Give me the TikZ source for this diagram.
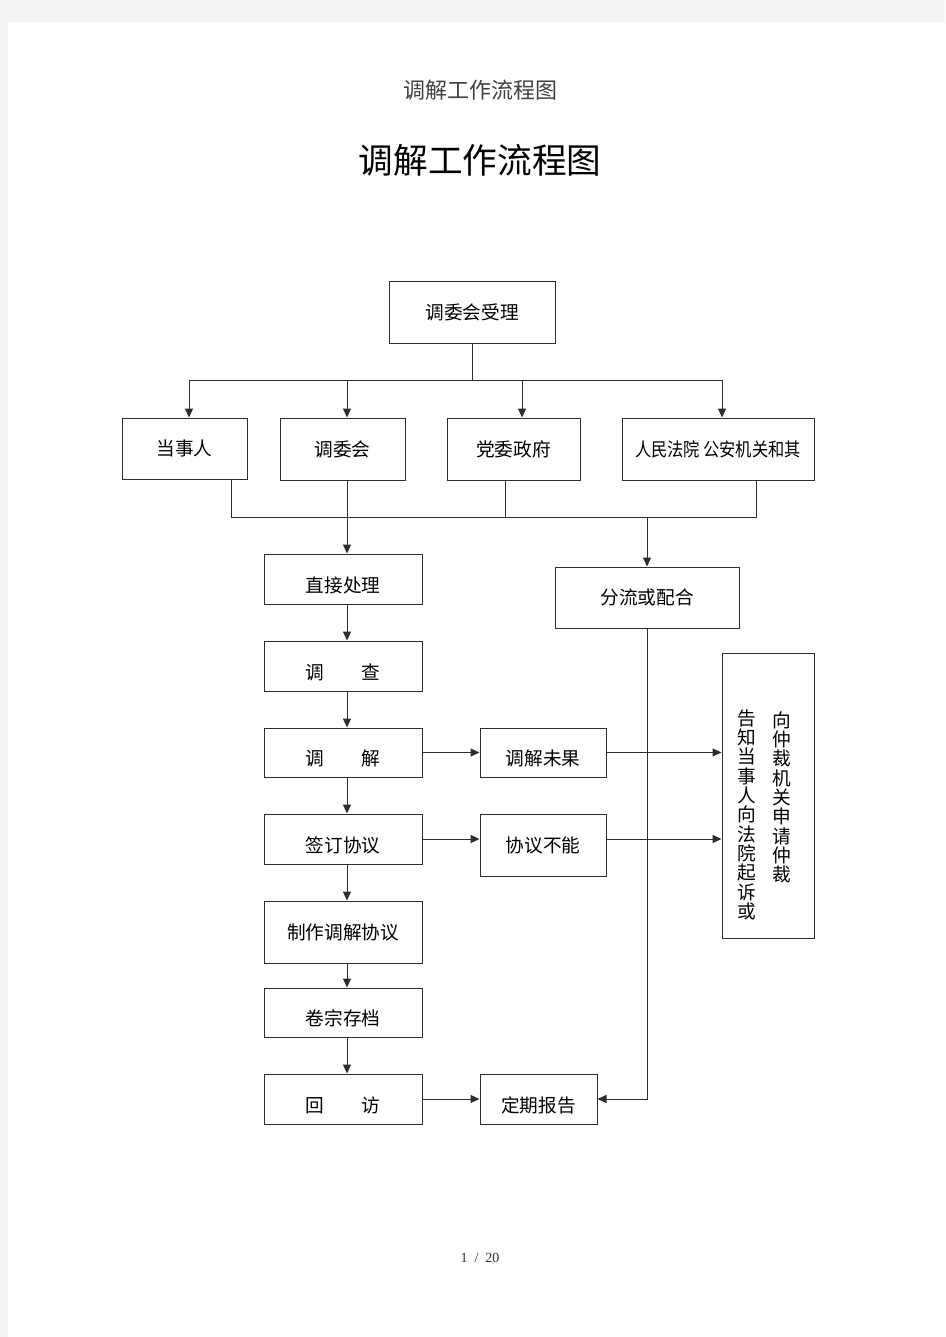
\documentclass[tikz,border=0pt]{standalone}
\usepackage{fontspec}
\newfontfamily\cjk{Noto Sans CJK SC}
\newfontfamily\cjknarrow[FakeStretch=0.87]{Noto Sans CJK SC}
\newfontfamily\pagefont{Liberation Serif}
\usetikzlibrary{arrows.meta}
\definecolor{pagegray}{RGB}{244,244,244}
\definecolor{framegray}{RGB}{45,45,45}

\tikzset{every picture/.style={line width=0.75pt}}
\tikzset{
  flowbox/.style={draw=framegray, rectangle, inner sep=0pt, font=\cjk\fontsize{14}{17}\selectfont},
  lowtext/.style={text height=22pt, text depth=2pt},
  wh/.style 2 args={minimum width=#1*0.75pt, minimum height=#2*0.75pt},
  arr/.style={draw=framegray, -{Triangle[length=6.75pt,width=6pt]}},
  link/.style={draw=framegray},
  vtext/.style={inner sep=0pt, anchor=north, align=center, font=\cjk\fontsize{14}{14.5}\selectfont},
}

\begin{document}
\begin{tikzpicture}[x=0.75pt,y=0.75pt,yscale=-1,xscale=1]
\useasboundingbox (0,0) rectangle (945,1337);

%Page background
\fill [pagegray] (0,0) rectangle (945,1337);
\fill [white] (8,22) rectangle (945,1337);

% Text Node
\node (head) [font=\cjk\fontsize{16.5}{18}\selectfont, text=black!75] at (480,90) {调解工作流程图};
% Text Node
\node (title) [font=\cjk\fontsize{26}{28}\selectfont] at (480,160) {调解工作流程图};

%Shape: Rectangle
\node (accept) [flowbox, wh={166}{61}] at (472,312.5) {调委会受理};
%Shape: Rectangle
\node (party) [flowbox, wh={125}{61}] at (184.5,448.5) {当事人};
%Shape: Rectangle
\node (cmte) [flowbox, wh={125}{62}] at (342.5,449) {调委会};
%Shape: Rectangle
\node (gov) [flowbox, wh={133}{62}] at (513.5,449) {党委政府};
%Shape: Rectangle
\node (court) [flowbox, wh={192}{62}, font=\cjknarrow\fontsize{14}{17}\selectfont] at (718,449) {人民法院\,公安机关和其};

%Shape: Rectangle
\node (direct) [flowbox, lowtext, wh={158}{50}] at (343,579) {直接处理};
%Shape: Rectangle
\node (survey) [flowbox, lowtext, wh={158}{50}] at (343,666) {调　　查};
%Shape: Rectangle
\node (mediate) [flowbox, lowtext, wh={158}{49}] at (343,752.5) {调　　解};
%Shape: Rectangle
\node (sign) [flowbox, lowtext, wh={158}{50}] at (343,839) {签订协议};
%Shape: Rectangle
\node (make) [flowbox, wh={158}{62}] at (343,932) {制作调解协议};
%Shape: Rectangle
\node (archive) [flowbox, lowtext, wh={158}{49}] at (343,1012.5) {卷宗存档};
%Shape: Rectangle
\node (visit) [flowbox, lowtext, wh={158}{50}] at (343,1099) {回　　访};

%Shape: Rectangle
\node (divert) [flowbox, wh={184}{61}] at (647,597.5) {分流或配合};
%Shape: Rectangle
\node (fail) [flowbox, lowtext, wh={126}{49}] at (543,752.5) {调解未果};
%Shape: Rectangle
\node (cannot) [flowbox, wh={126}{62}] at (543,845) {协议不能};
%Shape: Rectangle
\node (report) [flowbox, lowtext, wh={117}{50}] at (538.5,1099) {定期报告};
%Shape: Rectangle
\node (advise) [flowbox, wh={92}{285}] at (768,795.5) {};
% Text Node
\node (advisel) [vtext] at (747,709) {告\\知\\当\\事\\人\\向\\法\\院\\起\\诉\\或};
% Text Node
\node (adviser) [vtext] at (782,711) {向\\仲\\裁\\机\\关\\申\\请\\仲\\裁};

%Bus coordinates
\coordinate (t1) at (189,380);
\coordinate (t2) at (347,380);
\coordinate (t3) at (522,380);
\coordinate (t4) at (722,380);
\coordinate (b1) at (231,517);
\coordinate (b2) at (347,517);
\coordinate (b3) at (505,517);
\coordinate (b4) at (756,517);
\coordinate (b5) at (647,517);

%Straight Lines
\draw [link] (accept.south) -- (accept.south |- t1);
\draw [link] (t1) -- (t4);
\draw [arr] (t1) -- (t1 |- party.north);
\draw [arr] (t2) -- (t2 |- cmte.north);
\draw [arr] (t3) -- (t3 |- gov.north);
\draw [arr] (t4) -- (t4 |- court.north);

%Straight Lines
\draw [link] (b1 |- party.south) -- (b1) -- (b4) -- (b4 |- court.south);
\draw [link] (b3 |- gov.south) -- (b3);
\draw [arr] (b2 |- cmte.south) -- (b2 |- direct.north);
\draw [arr] (b5) -- (divert.north);

%Straight Lines
\draw [arr] (b2 |- direct.south) -- (b2 |- survey.north);
\draw [arr] (b2 |- survey.south) -- (b2 |- mediate.north);
\draw [arr] (b2 |- mediate.south) -- (b2 |- sign.north);
\draw [arr] (b2 |- sign.south) -- (b2 |- make.north);
\draw [arr] (b2 |- make.south) -- (b2 |- archive.north);
\draw [arr] (b2 |- archive.south) -- (b2 |- visit.north);

%Straight Lines
\draw [arr] (mediate.east) -- (fail.west);
\draw [arr] (fail.east) -- (advise.west |- fail.east);
\draw [arr] (sign.east) -- (cannot.west |- sign.east);
\draw [arr] (cannot.east |- sign.east) -- (advise.west |- sign.east);
\draw [arr] (visit.east) -- (report.west);
\draw [arr] (divert.south) |- (report.east);

% Text Node
\node (pageno) [font=\pagefont\fontsize{10.5}{12}\selectfont, text=black!80] at (480,1258) {1\ \ /\ \ 20};

\end{tikzpicture}
\end{document}
